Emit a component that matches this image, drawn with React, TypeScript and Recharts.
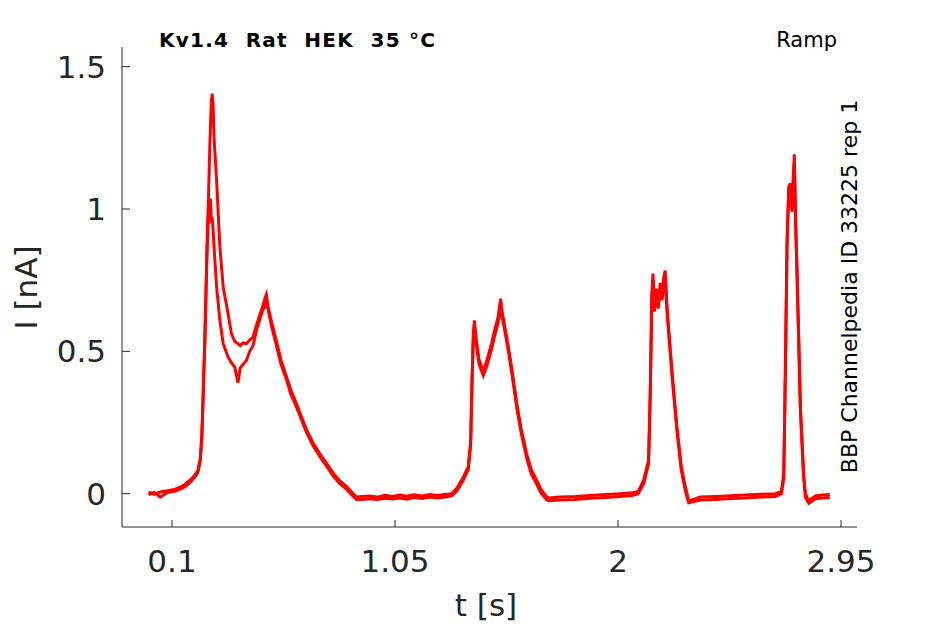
import { Line, LineChart, XAxis, YAxis } from "recharts";

// time points [s]
const times = [
  0.0, 0.025, 0.05, 0.08, 0.111, 0.14, 0.161, 0.18, 0.197, 0.21, 0.22, 0.227, 0.232, 0.24, 0.249, 0.255, 0.261,
  0.264, 0.268, 0.271, 0.275, 0.279, 0.29, 0.304, 0.318, 0.339, 0.353, 0.367, 0.381, 0.39, 0.403, 0.417, 0.431,
  0.445, 0.459, 0.473, 0.487, 0.497, 0.502, 0.51, 0.525, 0.545, 0.564, 0.588, 0.606, 0.63, 0.649, 0.673, 0.7,
  0.73, 0.76, 0.787, 0.815, 0.844, 0.866, 0.886, 0.91,
  0.943, 0.975, 1.007, 1.04, 1.071, 1.1, 1.13, 1.165, 1.197, 1.23, 1.263,
  1.291, 1.314, 1.341, 1.362, 1.372, 1.378, 1.383, 1.388, 1.395, 1.408, 1.426, 1.442, 1.462, 1.476, 1.489, 1.5,
  1.506, 1.515, 1.533, 1.549, 1.569, 1.587, 1.611, 1.63, 1.654, 1.672, 1.697, 1.706,
  1.753, 1.817, 1.881, 1.945, 2.009, 2.06, 2.086,
  2.109, 2.13, 2.137, 2.144, 2.149, 2.155, 2.163, 2.171, 2.18, 2.188, 2.195, 2.201, 2.207, 2.215, 2.231, 2.251,
  2.269, 2.285, 2.294, 2.301,
  2.351, 2.415, 2.479, 2.542, 2.606, 2.67, 2.696,
  2.706, 2.713, 2.72, 2.727, 2.734, 2.741, 2.747, 2.751, 2.757, 2.763, 2.777, 2.79, 2.798, 2.812,
  2.841, 2.87, 2.902,
];

// sweep with the tall first peak [nA]
const sweepA = [
  0.005, -0.002, 0.006, 0.01, 0.015, 0.025, 0.036, 0.05, 0.065, 0.08, 0.12, 0.2, 0.33, 0.55, 0.866, 1.03, 1.217,
  1.3, 1.38, 1.405, 1.37, 1.25, 1.1, 0.866, 0.726, 0.632, 0.562, 0.535, 0.527, 0.52, 0.53, 0.527, 0.54,
  0.55, 0.59, 0.625, 0.66, 0.69, 0.7, 0.655, 0.6, 0.535, 0.47, 0.41, 0.365, 0.317, 0.275, 0.225, 0.18,
  0.14, 0.105, 0.072, 0.045, 0.025, 0.005, -0.012, -0.01,
  -0.008, -0.012, -0.006, -0.01, -0.005, -0.009, -0.004, -0.008, -0.003, -0.006, -0.003,
  0.0, 0.02, 0.058, 0.095, 0.18, 0.4, 0.55, 0.609, 0.55, 0.47, 0.43, 0.47, 0.53, 0.58, 0.62, 0.685,
  0.64, 0.6, 0.515, 0.43, 0.316, 0.23, 0.14, 0.085, 0.047, 0.015, -0.012, -0.015,
  -0.012, -0.01, -0.006, -0.003, 0.0, 0.003, 0.008,
  0.047, 0.117, 0.35, 0.7, 0.773, 0.66, 0.72, 0.67, 0.74, 0.7, 0.76, 0.784, 0.68, 0.585, 0.42, 0.234,
  0.1, 0.03, 0.0, -0.025,
  -0.012, -0.01, -0.007, -0.005, -0.002, 0.0, 0.008,
  0.07, 0.45, 0.89, 1.077, 1.09, 1.013, 1.12, 1.192, 0.95, 0.773, 0.304, 0.08, 0.0, -0.025,
  -0.008, -0.005, -0.003,
];

// second sweep [nA]
const sweepB = [
  -0.003, 0.004, -0.012, 0.004, 0.008, 0.018, 0.028, 0.042, 0.058, 0.075, 0.115, 0.195, 0.325, 0.54, 0.84, 0.98, 1.03,
  1.036, 0.95, 0.97, 0.93, 0.866, 0.726, 0.609, 0.527, 0.48, 0.46, 0.445, 0.39, 0.44, 0.455, 0.468, 0.5,
  0.52, 0.57, 0.61, 0.645, 0.66, 0.675, 0.645, 0.585, 0.52, 0.455, 0.4, 0.35, 0.305, 0.265, 0.215, 0.17,
  0.13, 0.095, 0.062, 0.035, 0.015, -0.004, -0.02, -0.02,
  -0.018, -0.02, -0.016, -0.019, -0.015, -0.019, -0.013, -0.017, -0.012, -0.015, -0.012,
  -0.008, 0.01, 0.048, 0.085, 0.17, 0.38, 0.53, 0.59, 0.53, 0.455, 0.415, 0.45, 0.51, 0.56, 0.6, 0.66,
  0.62, 0.585, 0.5, 0.415, 0.3, 0.215, 0.125, 0.07, 0.032, 0.003, -0.022, -0.025,
  -0.022, -0.02, -0.016, -0.013, -0.01, -0.006, 0.0,
  0.035, 0.105, 0.33, 0.68, 0.75, 0.64, 0.7, 0.65, 0.71, 0.68, 0.74, 0.76, 0.66, 0.57, 0.405, 0.22,
  0.085, 0.018, -0.012, -0.032,
  -0.022, -0.02, -0.017, -0.015, -0.012, -0.01, 0.0,
  0.055, 0.43, 0.87, 1.05, 1.06, 0.99, 1.1, 1.16, 0.93, 0.75, 0.29, 0.065, -0.012, -0.034,
  -0.018, -0.015, -0.013,
];

const xTicks = [0.1, 1.05, 2, 2.95];
const yTicks = [0, 0.5, 1, 1.5];

const data = times.map((t, i) => ({ t, a: sweepA[i], b: sweepB[i] }));

const FONT = "DejaVu Sans";
const AXIS = "#262626";

function XTick({ x, y, payload }: any) {
  return (
    <g>
      <line x1={x} y1={y} x2={x} y2={y - 7} stroke={AXIS} />
      <text x={x} y={y + 45} textAnchor="middle" fontSize={31} fontFamily={FONT} fill={AXIS}>
        {String(payload.value)}
      </text>
    </g>
  );
}

function YTick({ x, y, payload }: any) {
  return (
    <g>
      <line x1={x} y1={y} x2={x + 8} y2={y} stroke={AXIS} />
      <text x={x - 16} y={y + 11} textAnchor="end" fontSize={31} fontFamily={FONT} fill={AXIS}>
        {String(payload.value)}
      </text>
    </g>
  );
}

export default function App() {
  return (
    <div style={{ position: "absolute", left: 0, top: 0, width: 945, height: 624, background: "#fff" }}>
      <LineChart width={945} height={624} data={data} margin={{ top: 47, right: 88, bottom: 0, left: 0 }}>
        <XAxis
          dataKey="t"
          type="number"
          domain={[-0.113, 3.018]}
          ticks={xTicks}
          allowDataOverflow
          height={97}
          tickSize={0}
          tickMargin={0}
          tickLine={false}
          axisLine={{ stroke: AXIS }}
          tick={<XTick />}
          interval={0}
        />
        <YAxis
          type="number"
          domain={[-0.117, 1.569]}
          ticks={yTicks}
          allowDataOverflow
          width={122}
          tickSize={0}
          tickMargin={0}
          tickLine={false}
          axisLine={{ stroke: AXIS }}
          tick={<YTick />}
          interval={0}
        />
        <Line dataKey="a" type="linear" stroke="#ff0000" strokeWidth={3} dot={false} isAnimationActive={false} />
        <Line dataKey="b" type="linear" stroke="#ff0000" strokeWidth={3} dot={false} isAnimationActive={false} />
      </LineChart>
      <svg
        width={945}
        height={624}
        style={{ position: "absolute", left: 0, top: 0, pointerEvents: "none" }}
        fontFamily={FONT}
      >
        <text x={159} y={47} fontSize={20} fontWeight="bold" fill="#000" textLength={276} lengthAdjust="spacing" style={{ whiteSpace: "pre" }}>
          {"Kv1.4  Rat  HEK  35 °C"}
        </text>
        <text x={837} y={47} fontSize={21} textAnchor="end" fill="#000">
          Ramp
        </text>
        <text transform="translate(857, 286.5) rotate(-90)" fontSize={22} textAnchor="middle" fill="#000">
          BBP Channelpedia ID 33225 rep 1
        </text>
        <text transform="translate(37, 287.5) rotate(-90)" fontSize={31} textAnchor="middle" fill={AXIS}>
          I [nA]
        </text>
        <text x={486} y={616} fontSize={31} textAnchor="middle" fill={AXIS}>
          t [s]
        </text>
      </svg>
    </div>
  );
}
